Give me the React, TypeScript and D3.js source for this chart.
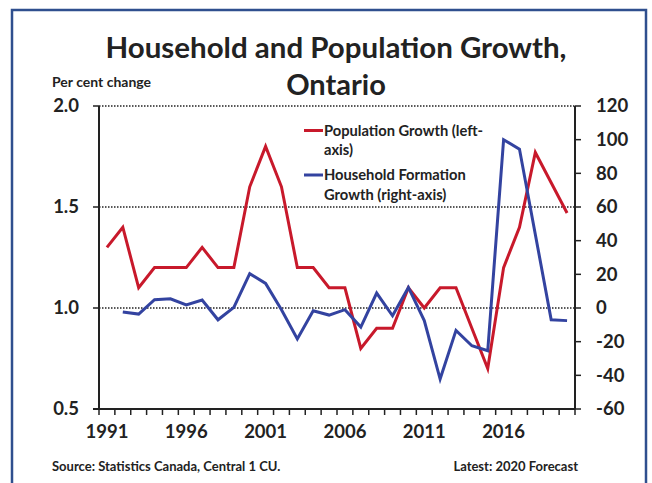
import React from "react";
import * as d3 from "d3";

const years: string[] = [
  "1991","1992","1993","1994","1995","1996","1997","1998","1999","2000",
  "2001","2002","2003","2004","2005","2006","2007","2008","2009","2010",
  "2011","2012","2013","2014","2015","2016","2017","2018","2019","2020",
];
const xLabels: string[] = ["1991", "1996", "2001", "2006", "2011", "2016"];

const populationGrowth: (number | null)[] = [
  1.30, 1.40, 1.10, 1.20, 1.20, 1.20, 1.30, 1.20, 1.20, 1.60,
  1.80, 1.60, 1.20, 1.20, 1.10, 1.10, 0.80, 0.90, 0.90, 1.10,
  1.00, 1.10, 1.10, 0.90, 0.70, 1.20, 1.40, 1.77, 1.62, 1.47,
];
const householdGrowth: (number | null)[] = [
  null, -2.4, -3.6, 4.9, 5.5, 1.8, 4.7, -7.0, 0.4, 20.4,
  14.6, -1.0, -18.4, -1.6, -4.2, -1.0, -11.3, 8.9, -4.6, 12.2,
  -7.5, -42.2, -13.3, -22.4, -25.4, 100.0, 94.4, 43.7, -7.0, -7.5,
];

const leftTicks: number[] = [0.5, 1.0, 1.5, 2.0];
const rightTicks: number[] = [-60, -40, -20, 0, 20, 40, 60, 80, 100, 120];
const gridTicks: number[] = [1.0, 1.5, 2.0];

const RED = "#C8192B";
const BLUE = "#3343A0";
const FONT = "Lato, 'Open Sans', sans-serif";

export default function App() {
  const W = 652, H = 483;
  const L = 99, R = 575, T = 106, B = 409;
  const x = d3.scaleBand<string>().domain(years).range([L, R]);
  const yL = d3.scaleLinear().domain([0.5, 2.0]).range([B, T]);
  const yR = d3.scaleLinear().domain([-60, 120]).range([B, T]);
  const cx = (d: string) => (x(d) as number) + x.bandwidth() / 2;

  const popLine = d3
    .line<number | null>()
    .defined((d) => d !== null)
    .x((_, i) => cx(years[i]))
    .y((d) => yL(d as number));
  const hhLine = d3
    .line<number | null>()
    .defined((d) => d !== null)
    .x((_, i) => cx(years[i]))
    .y((d) => yR(d as number));

  const boundaries = d3.range(years.length + 1).map((i) => L + i * x.step());

  return (
    <svg
      width={W}
      height={H}
      style={{ position: "absolute", left: 0, top: 0, display: "block", background: "#fff" }}
      fontFamily={FONT}
    >
      <rect x={0} y={0} width={W} height={H} fill="#fff" />
      <rect x={12} y={10} width={634} height={H + 20} fill="none" stroke="#2F4F8E" strokeWidth={2.5} />

      {/* Title */}
      <text x={336} y={58} textAnchor="middle" fontSize={29} fontWeight={700} fill="#222" textLength={461} lengthAdjust="spacingAndGlyphs">
        Household and Population Growth,
      </text>
      <text x={336} y={95} textAnchor="middle" fontSize={29} fontWeight={700} fill="#222">
        Ontario
      </text>
      <text x={52} y={87} fontSize={14} fontWeight={700} fill="#222">
        Per cent change
      </text>

      {/* gridlines */}
      {gridTicks.map((t) => (
        <line key={"g" + t} x1={L} x2={R} y1={yL(t)} y2={yL(t)} stroke="#222" strokeWidth={1.3} strokeDasharray="1.5,1.5" />
      ))}

      {/* lines */}
      <path d={popLine(populationGrowth) || ""} fill="none" stroke={RED} strokeWidth={3} strokeLinejoin="miter" />
      <path d={hhLine(householdGrowth) || ""} fill="none" stroke={BLUE} strokeWidth={3} strokeLinejoin="miter" />

      {/* axes */}
      <line x1={L} x2={L} y1={T} y2={B} stroke="#222" strokeWidth={2} />
      <line x1={R} x2={R} y1={T} y2={B} stroke="#222" strokeWidth={2} />
      <line x1={L - 6} x2={R} y1={B} y2={B} stroke="#222" strokeWidth={2} />
      {leftTicks.map((t) => (
        <g key={"l" + t}>
          <line x1={L - 6} x2={L} y1={yL(t)} y2={yL(t)} stroke="#222" strokeWidth={1.5} />
          <text x={79} y={yL(t)} dy="0.35em" textAnchor="end" fontSize={18.5} fontWeight={700} fill="#222">
            {t.toFixed(1)}
          </text>
        </g>
      ))}
      {rightTicks.map((t) => (
        <g key={"r" + t}>
          <line x1={R} x2={R + 6} y1={yR(t)} y2={yR(t)} stroke="#222" strokeWidth={1.5} />
          <text x={596} y={yR(t)} dy="0.35em" textAnchor="start" fontSize={18.5} fontWeight={700} fill="#222">
            {t}
          </text>
        </g>
      ))}
      {boundaries.map((bx, i) => (
        <line key={"b" + i} x1={bx} x2={bx} y1={B} y2={B + 6} stroke="#222" strokeWidth={1.5} />
      ))}
      {xLabels.map((lab) => (
        <text key={"x" + lab} x={cx(lab)} y={437.5} textAnchor="middle" fontSize={18.5} fontWeight={700} fill="#222">
          {lab}
        </text>
      ))}

      {/* legend */}
      <line x1={304} x2={323} y1={130.5} y2={130.5} stroke={RED} strokeWidth={3} />
      <text x={324} y={135.5} fontSize={14.7} fontWeight={700} fill="#222">Population Growth (left-</text>
      <text x={324} y={155} fontSize={14.7} fontWeight={700} fill="#222">axis)</text>
      <line x1={304} x2={323} y1={175} y2={175} stroke={BLUE} strokeWidth={3} />
      <text x={324} y={180} fontSize={14.7} fontWeight={700} fill="#222">Household Formation</text>
      <text x={324} y={199.5} fontSize={14.7} fontWeight={700} fill="#222">Growth (right-axis)</text>

      {/* footer */}
      <text x={52} y={471} fontSize={13} fontWeight={700} fill="#222">
        Source: Statistics Canada, Central 1 CU.
      </text>
      <text x={578} y={471} textAnchor="end" fontSize={13} fontWeight={700} fill="#222">
        Latest: 2020 Forecast
      </text>
    </svg>
  );
}
